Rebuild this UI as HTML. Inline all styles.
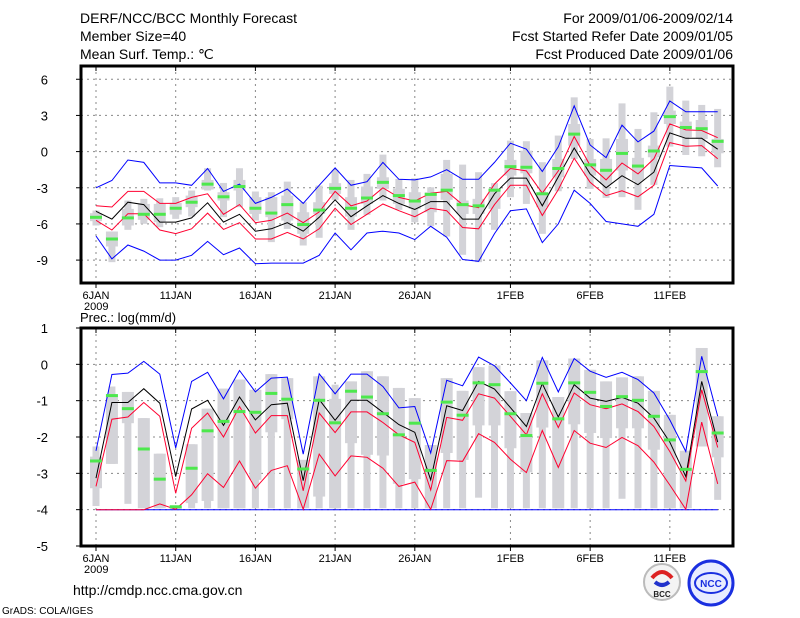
<!DOCTYPE html>
<html><head><meta charset="utf-8">
<style>
html,body{margin:0;padding:0;background:#fff;}
svg{display:block;}
text{font-family:"Liberation Sans",sans-serif;}
</style></head>
<body>
<svg id="chart" width="800" height="618" viewBox="0 0 800 618" xmlns="http://www.w3.org/2000/svg">
<g font-size="14" fill="#000">
<text x="80" y="23">DERF/NCC/BCC Monthly Forecast</text>
<text x="80" y="41">Member Size=40</text>
<text x="80" y="59">Mean Surf. Temp.: ℃</text>
<text x="733" y="23" text-anchor="end">For 2009/01/06-2009/02/14</text>
<text x="733" y="41" text-anchor="end">Fcst Started Refer Date 2009/01/05</text>
<text x="733" y="59" text-anchor="end">Fcst Produced Date 2009/01/06</text>
</g>
<text x="80" y="322" font-size="13">Prec.: log(mm/d)</text>
<text x="73" y="595" font-size="14">http://cmdp.ncc.cma.gov.cn</text>
<text x="2" y="614" font-size="10">GrADS: COLA/IGES</text>
<g>
<circle cx="662" cy="582" r="18" fill="#f4f4f4" stroke="#bbb" stroke-width="2"/>
<path d="M652 578 q10 -12 20 0" stroke="#d22" stroke-width="4" fill="none"/>
<path d="M655 582 q7 6 14 0" stroke="#23c" stroke-width="4" fill="none"/>
<text x="662" y="597" font-size="8" font-weight="bold" text-anchor="middle" fill="#222">BCC</text>
</g>
<g>
<circle cx="711" cy="583" r="22" fill="#e8ecff" stroke="#1a2fe0" stroke-width="3"/>
<ellipse cx="711" cy="583" rx="16" ry="10" fill="none" stroke="#1a2fe0" stroke-width="2"/>
<text x="711" y="587" font-size="10" font-weight="bold" text-anchor="middle" fill="#1a2fe0">NCC</text>
</g>
<g id="panels"></g>
</svg>
<script>
// ---------- data ----------
const dayLabels = ["6JAN","11JAN","16JAN","21JAN","26JAN","1FEB","6FEB","11FEB"];
const dayLabelIdx = [0,5,10,15,20,26,31,36];
const tempTicks = [6,3,0,-3,-6,-9];
const precTicks = [1,0,-1,-2,-3,-4,-5];

const tBlueHi = [-3.0,-2.4,-0.7,-0.9,-2.6,-2.6,-2.8,-1.4,-3.3,-2.7,-4.3,-3.8,-3.1,-4.3,-2.8,-1.35,-2.8,-2.5,-0.9,-2.3,-2.35,-2.1,-1.5,-2.3,-2.3,-0.9,0.7,0.2,-1.65,0.4,3.8,0.55,-0.5,2.2,0.8,1.7,4.2,3.3,3.3,3.3];
const tRedHi = [-4.5,-4.6,-3.3,-3.3,-4.3,-4.3,-3.8,-3.5,-5.2,-4.4,-5.9,-5.7,-5.1,-5.9,-5.0,-3.3,-4.5,-4.1,-3.0,-3.8,-4.1,-3.45,-3.3,-4.4,-4.65,-2.7,-1.4,-1.6,-3.45,-1.6,1.25,-1.15,-2.35,-0.95,-1.85,-0.6,2.3,1.8,1.75,1.15];
const tMean = [-4.95,-5.6,-4.2,-4.4,-5.85,-5.85,-5.5,-4.25,-5.85,-5.2,-6.6,-6.4,-5.9,-6.6,-5.45,-4.0,-5.4,-4.5,-3.65,-4.3,-4.8,-4.15,-4.15,-5.6,-5.6,-3.5,-2.2,-2.2,-4.5,-2.1,0.3,-1.85,-3.0,-2.0,-2.75,-1.7,1.55,1.1,1.1,0.2];
const tRedLo = [-5.7,-6.5,-5.15,-5.15,-6.5,-6.8,-6.4,-5.1,-6.45,-5.9,-7.25,-7.25,-6.7,-7.25,-6.4,-4.7,-6.05,-5.2,-4.35,-4.9,-5.4,-4.7,-4.9,-6.3,-6.4,-4.4,-2.8,-2.8,-5.3,-3.15,-0.55,-2.55,-3.65,-3.25,-3.75,-2.8,0.75,0.45,0.5,-0.6];
const tBlueLo = [-7.0,-8.9,-7.75,-8.25,-9.0,-9.0,-8.6,-7.45,-8.55,-8.0,-9.3,-9.25,-9.25,-9.25,-8.6,-6.75,-8.15,-6.75,-6.6,-6.75,-7.3,-6.2,-7.1,-8.95,-9.1,-6.8,-4.9,-4.75,-7.55,-6.0,-3.2,-4.3,-5.8,-6.0,-6.2,-5.2,-1.15,-1.25,-1.35,-2.85];
const tObs = [-5.45,-7.25,-5.5,-5.2,-5.2,-4.7,-4.2,-2.7,-3.75,-2.9,-4.7,-5.1,-4.4,-6.05,-4.85,-3.05,-4.7,-3.85,-2.55,-3.65,-4.1,-3.55,-3.2,-4.4,-4.5,-3.2,-1.25,-1.3,-3.5,-1.4,1.45,-1.1,-1.55,-0.15,-1.2,0.05,2.9,2.0,1.9,0.85];
const tMax = [-4.89,-6.63,-4.06,-3.92,-3.87,-3.78,-3.23,-1.38,-2.6,-1.38,-3.31,-3.37,-2.49,-4.2,-2.82,-1.52,-2.35,-1.85,-0.25,-2.27,-2.21,-2.96,-0.69,-1.08,-1.71,-2.62,0.91,0.86,-0.88,1.33,4.5,1.05,1.1,4.0,1.88,3.26,5.39,4.23,3.87,3.54];
const tQ3 = [-5.11,-6.63,-4.75,-4.34,-4.34,-4.25,-3.65,-2.35,-3.37,-2.35,-3.78,-3.78,-3.65,-5.03,-4.2,-2.62,-3.78,-2.9,-2.13,-3.09,-3.37,-3.37,-1.85,-4.06,-3.92,-3.09,-0.69,0.08,-3.45,-0.61,2.29,-0.61,-0.61,1.05,-0.52,0.5,3.4,2.49,2.62,1.05];
const tQ1 = [-5.77,-7.87,-6.13,-5.66,-5.86,-5.22,-4.61,-3.15,-4.06,-3.23,-5.17,-5.44,-5.72,-6.82,-5.17,-3.51,-5.39,-4.34,-3.09,-4.34,-4.75,-5.03,-4.0,-5.17,-5.17,-4.75,-1.99,-1.8,-4.61,-2.13,0.5,-1.99,-2.68,-1.57,-2.4,-0.47,2.29,1.19,1.05,-0.14];
const tMin = [-6.13,-9.17,-6.49,-5.99,-6.27,-5.58,-5.39,-3.23,-5.44,-4.61,-5.72,-7.51,-6.41,-7.79,-7.15,-4.0,-6.49,-5.25,-4.06,-4.83,-5.86,-6.19,-7.04,-8.56,-9.17,-6.49,-3.78,-4.34,-6.82,-3.29,-0.61,-3.09,-3.84,-3.78,-4.83,-2.76,0.41,-0.28,-0.39,-1.3];

const pBlueHi = [-2.38,-0.28,-0.24,0.08,-0.27,-2.3,-0.47,-0.22,-0.95,-0.17,-0.76,-0.38,-0.35,-2.47,-0.26,-0.81,-0.27,-0.27,-0.61,-1.2,-1.16,-2.44,-0.44,-0.59,0.2,-0.04,-0.51,-1.0,0.19,-0.76,0.16,-0.19,-0.36,-0.22,-0.42,-0.79,-1.53,-2.4,0.22,-1.43];
const pMean = [-3.13,-1.05,-1.05,-0.67,-1.07,-3.09,-1.23,-0.99,-1.68,-0.9,-1.53,-1.11,-1.07,-3.2,-0.97,-1.54,-0.99,-0.99,-1.32,-1.66,-1.87,-3.18,-1.14,-1.27,-0.47,-0.68,-1.19,-1.71,-0.53,-1.45,-0.56,-0.93,-1.02,-0.91,-1.07,-1.48,-2.14,-3.09,-0.47,-2.14];
const pRedHi = [-3.36,-1.51,-1.45,-1.05,-1.43,-3.55,-1.76,-1.34,-2.0,-1.16,-1.89,-1.41,-1.41,-3.48,-1.34,-1.88,-1.31,-1.31,-1.6,-1.94,-2.15,-3.46,-1.46,-1.54,-0.81,-0.93,-1.43,-1.94,-0.81,-1.74,-0.79,-1.11,-1.22,-1.09,-1.3,-1.71,-2.4,-3.21,-0.7,-2.29];
const pRedLo = [-4.0,-4.0,-4.0,-4.0,-3.84,-3.99,-3.59,-3.01,-3.39,-2.66,-3.41,-2.92,-2.79,-3.99,-2.47,-3.07,-2.52,-2.56,-2.86,-3.36,-3.24,-3.99,-2.65,-2.67,-1.91,-2.15,-2.61,-2.98,-1.82,-2.84,-1.82,-2.17,-2.29,-2.01,-2.24,-2.69,-3.32,-3.99,-1.59,-3.29];
const pBlueLo = [-4,-4,-4,-4,-4,-4,-4,-4,-4,-4,-4,-4,-4,-4,-4,-4,-4,-4,-4,-4,-4,-4,-4,-4,-4,-4,-4,-4,-4,-4,-4,-4,-4,-4,-4,-4,-4,-4,-4,-4];
const pObs = [-2.66,-0.86,-1.22,-2.33,-3.16,-3.92,-2.86,-1.83,-1.57,-1.3,-1.32,-0.8,-0.96,-2.88,-0.99,-1.61,-0.74,-0.9,-1.36,-1.94,-1.62,-2.92,-1.04,-1.4,-0.51,-0.56,-1.36,-1.96,-0.52,-1.5,-0.51,-0.77,-1.16,-0.89,-0.99,-1.43,-2.08,-2.89,-0.2,-1.89];
const pMax = [-2.26,-0.61,-0.76,-1.48,-2.46,-3.92,-2.2,-1.22,-0.67,-0.42,-0.7,-0.27,-0.38,-2.63,-0.33,-0.56,-0.47,-0.19,-0.33,-0.65,-0.93,-2.22,-0.38,-0.73,-0.08,-0.03,-0.74,-1.34,0.11,-0.9,0.16,-0.15,-0.47,-0.36,-0.33,-0.73,-1.39,-2.38,0.45,-1.43];
const pQ3 = [-2.54,-0.88,-0.76,-1.48,-2.46,-3.92,-2.2,-1.22,-0.67,-0.42,-0.7,-0.27,-0.38,-2.63,-0.33,-0.95,-0.47,-0.19,-0.33,-0.65,-0.93,-2.22,-0.38,-0.73,-0.08,-0.03,-0.74,-1.34,0.11,-0.9,0.16,-0.15,-0.47,-0.36,-0.33,-0.73,-1.39,-2.38,0.45,-1.43];
const pQ1 = [-3.41,-2.74,-1.62,-3.96,-3.96,-4.0,-3.82,-3.76,-3.96,-3.96,-3.18,-1.87,-1.51,-3.96,-3.64,-3.96,-2.17,-2.49,-2.51,-3.29,-3.16,-3.96,-2.44,-2.63,-1.68,-1.68,-2.31,-2.97,-1.74,-3.96,-1.65,-1.89,-2.03,-1.76,-1.76,-2.35,-3.96,-3.96,-2.26,-2.56];
const pMin = [-3.9,-2.74,-3.84,-3.96,-3.96,-4.0,-3.96,-3.96,-3.96,-3.96,-3.96,-3.96,-3.96,-3.96,-3.96,-3.96,-3.96,-3.96,-3.96,-3.96,-3.96,-3.96,-3.96,-3.96,-3.67,-3.96,-3.96,-3.96,-3.96,-3.96,-3.96,-3.96,-3.96,-3.7,-3.96,-3.96,-3.96,-3.96,-2.26,-3.73];

// ---------- drawing ----------
const NS = "http://www.w3.org/2000/svg";
const root = document.getElementById("panels");
const X0 = 81, X1 = 733;
function xDay(i){ return 96 + i * 15.94; }
function mk(tag, attrs, parent){
  const e = document.createElementNS(NS, tag);
  for (const k in attrs) e.setAttribute(k, attrs[k]);
  parent.appendChild(e);
  return e;
}
function panel(name, top, bottom, vmax, vmin, ticks, s){
  const g = mk("g", {}, root);
  
  
  const y = v => top + (vmax - v) / (vmax - vmin) * (bottom - top);
  ticks.forEach(t => {
    if (t < vmax && t > vmin) {
      const l = mk("line", {x1:X0, x2:X1, y1:y(t), y2:y(t), stroke:"#888", "stroke-dasharray":"2,4", "stroke-width":1}, g);
      
      
    }
  });
  dayLabelIdx.forEach(i => {
    const l = mk("line", {x1:xDay(i), x2:xDay(i), y1:top, y2:bottom, stroke:"#888", "stroke-dasharray":"2,4", "stroke-width":1}, g);
    
    
  });
  for (let i = 0; i < s.max.length; i++) {
    const cx = xDay(i);
    const w = mk("rect", {x:cx-3.5, width:7, y:y(s.max[i]), height:Math.max(1, y(s.min[i]) - y(s.max[i])), fill:"#d3d3d8"}, g);
    
    
    const b = mk("rect", {x:cx-6, width:12, y:y(s.q3[i]), height:Math.max(1, y(s.q1[i]) - y(s.q3[i])), fill:"#d3d3d8"}, g);
    
    
  }
  const lines = [[s.blueHi,"#0000ff","upper-blue-line"],[s.blueLo,"#0000ff","lower-blue-line"],[s.redHi,"#ff0030","upper-red-line"],[s.redLo,"#ff0030","lower-red-line"],[s.mean,"#000","ensemble-mean-line"]];
  lines.forEach(([arr, col, nm]) => {
    const pts = arr.map((v, i) => xDay(i).toFixed(1) + "," + y(v).toFixed(1)).join(" ");
    const p = mk("polyline", {points:pts, fill:"none", stroke:col, "stroke-width":1}, g);
    
    
  });
  s.obs.forEach((v, i) => {
    const r = mk("rect", {x:xDay(i)-6, width:12, y:y(v)-1.5, height:3, fill:"#4de84d"}, g);
    
    
  });
  const f = mk("rect", {x:X0, y:top, width:X1-X0, height:bottom-top, fill:"none", stroke:"#000", "stroke-width":3}, g);
  
  
  ticks.forEach(t => {
    const tk = mk("line", {x1:X0-5, x2:X0, y1:y(t), y2:y(t), stroke:"#000", "stroke-width":1}, g);
    
    
    const tx = mk("text", {x:X0-33, y:y(t)+5, "font-size":13, "text-anchor":"end"}, g);
    tx.textContent = String(t);
    
    
  });
  dayLabelIdx.forEach((idx, k) => {
    const tk = mk("line", {x1:xDay(idx), x2:xDay(idx), y1:bottom, y2:bottom+5, stroke:"#000", "stroke-width":1}, g);
    
    
    const tt = mk("line", {x1:xDay(idx), x2:xDay(idx), y1:top, y2:top+5, stroke:"#000", "stroke-width":1}, g);
    
    
    const tx = mk("text", {x:xDay(idx), y:bottom+16, "font-size":11, "text-anchor":"middle"}, g);
    tx.textContent = dayLabels[k];
    
    
  });
  const yr = mk("text", {x:xDay(0)-12, y:bottom+27, "font-size":11}, g);
  yr.textContent = "2009";
  
  
}
panel("temperature-panel", 66, 283, 7.1, -10.9, tempTicks,
  {max:tMax, q3:tQ3, q1:tQ1, min:tMin, blueHi:tBlueHi, blueLo:tBlueLo, redHi:tRedHi, redLo:tRedLo, mean:tMean, obs:tObs});
panel("precipitation-panel", 328, 546, 1, -5, precTicks,
  {max:pMax, q3:pQ3, q1:pQ1, min:pMin, blueHi:pBlueHi, blueLo:pBlueLo, redHi:pRedHi, redLo:pRedLo, mean:pMean, obs:pObs});
</script>
</body></html>
